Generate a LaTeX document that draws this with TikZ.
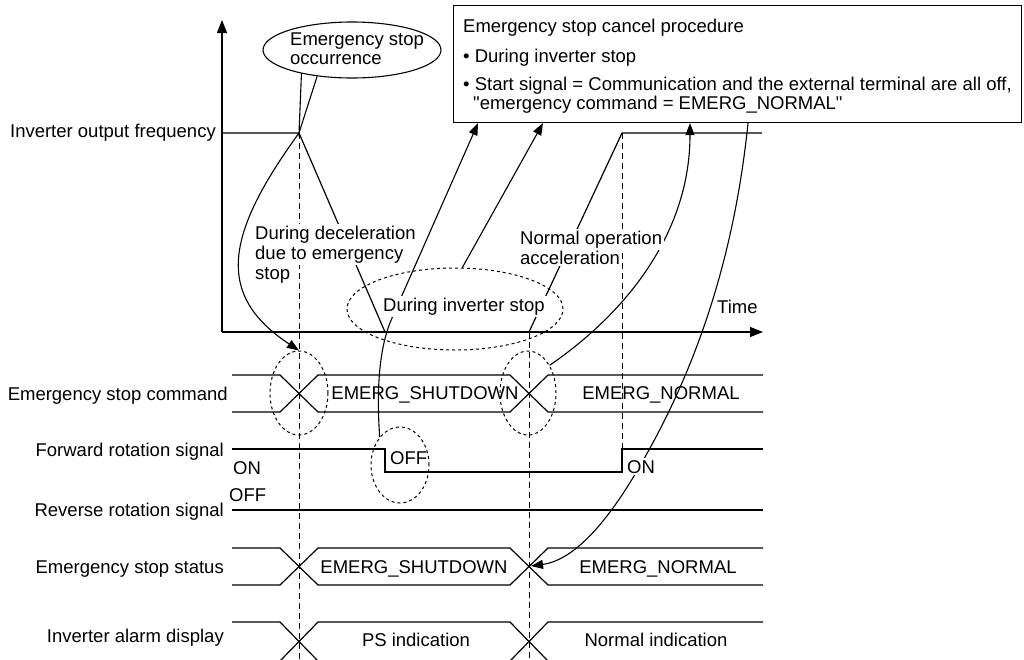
\documentclass[tikz,border=0pt]{standalone}
\usepackage{fontspec}
\setmainfont{Liberation Sans}[Ligatures=TeXOff]
\usetikzlibrary{arrows.meta,shapes.geometric}

\begin{document}
\begin{tikzpicture}[x=1pt,y=-1pt,
  lbl/.style={font=\fontsize{18.5}{20}\selectfont, inner sep=0pt},
  rowlbl/.style={lbl, anchor=base east},
  lw/.style={lbl, anchor=base west},
  cover/.style={lbl, anchor=base west, fill=white, inner sep=2pt},
  sig/.style={line width=1.2pt},
  leader/.style={line width=1.1pt},
  arr/.style={-{Triangle[length=12pt,width=9pt]}},
  vdash/.style={line width=1pt, dash pattern=on 6pt off 4pt},
  ring/.style={ellipse, draw, line width=1pt, dash pattern=on 3pt off 3pt, inner sep=0pt}]

\useasboundingbox (0,0) rectangle (1024,659);

% ---- frequency axes and curve
\coordinate (O) at (222,332);
\coordinate (apex) at (299,133);
\draw[sig, -{Triangle[length=13pt,width=10pt]}] (O) -- (222,20);
\draw[sig, -{Triangle[length=13pt,width=10pt]}] (O) -- (763,332);
\draw[sig] (222,133) -- (apex) -- (385,332);
\draw[sig] (529,332) -- (622,133) -- (762,133);

% ---- time markers
\draw[vdash] (apex) -- (299,661);
\draw[vdash] (529,332) -- (529,661);
\draw[vdash] (622,133) -- (622,449);

% ---- signal rows
\draw[sig] (232,375) -- (280,375) -- (318,412) -- (510,412) -- (548,375) -- (763,375);
\draw[sig] (232,412) -- (280,412) -- (318,375) -- (510,375) -- (548,412) -- (763,412);
\draw[sig] (232,449) -- (385,449) -- (385,472) -- (622,472) -- (622,449) -- (763,449);
\draw[sig] (232,510) -- (763,510);
\draw[sig] (232,548) -- (280,548) -- (318,585) -- (510,585) -- (548,548) -- (763,548);
\draw[sig] (232,585) -- (280,585) -- (318,548) -- (510,548) -- (548,585) -- (763,585);
\draw[sig] (232,622) -- (280,622) -- (318,661) -- (510,661) -- (548,622) -- (763,622);
\draw[sig] (232,661) -- (280,661) -- (318,622) -- (510,622) -- (548,661) -- (763,661);
\coordinate (stX) at (531,566);

% ---- dashed highlight rings
\node[ring, minimum width=58pt, minimum height=84pt] (cmdA) at (299,393) {};
\node[ring, minimum width=56pt, minimum height=84pt] (cmdB) at (528,393) {};
\node[ring, minimum width=58pt, minimum height=76pt] (offE) at (400,465) {};
\node[ring, minimum width=216pt, minimum height=82pt] (dip) at (455,309) {};

% ---- occurrence callout
\node[ellipse, draw, fill=white, line width=1.1pt, inner sep=0pt,
      minimum width=178pt, minimum height=56pt] (occ) at (352,50) {};
\draw[leader] (occ.205) -- (apex) -- (occ.217);
\node[lw] (occ1) at (290,45) {Emergency stop};
\node[lw] (occ2) at (290,64) {occurrence};

% ---- cancel procedure box
\node[draw, fill=white, line width=1.1pt, inner sep=0pt, anchor=north west,
      minimum width=568pt, minimum height=117pt] (cancel) at (453,5) {};
\node[lw] (c1) at (463,32) {Emergency stop cancel procedure};
\node[lw] (c2) at (463,62) {• During inverter stop};
\node[lw] (c3) at (463,90) {• Start signal = Communication and the external terminal are all off,};
\node[lw] (c4) at (473,109) {"emergency command = EMERG\_NORMAL"};

% ---- leaders
\draw[leader, arr] (apex) .. controls (225,235) and (215,295) .. (cmdA.north);
\draw[leader, arr] (offE.126) .. controls (376,385) and (380,345) .. (392,318)
      -- (478,0 |- cancel.south);
\draw[leader, arr] (dip.80) -- (543,0 |- cancel.south);
\draw[leader, arr] (cmdB.52) .. controls (630,310) and (690,230) .. (690,0 |- cancel.south);
\draw[leader, arr] (748,0 |- cancel.south) .. controls (735,250) and (700,360) .. (645,457)
      .. controls (610,520) and (575,560) .. (stX);

% ---- labels that mask the lines beneath them
\node[cover] (dec1) at (253,239) {During deceleration};
\node[cover] (dec2) at (253,259) {due to emergency};
\node[lw] (dec3) at (255,279) {stop};
\node[cover] (acc1) at (518,244) {Normal operation};
\node[cover] (acc2) at (518,264) {acceleration};
\node[cover] (dipt) at (381,311) {During inverter stop};
\node[cover] (onR) at (625,473) {ON};

% ---- remaining labels
\node[lw] (time) at (717,313) {Time};
\node[rowlbl] (r0) at (216,137) {Inverter output frequency};
\node[rowlbl] (r1) at (228,400) {Emergency stop command};
\node[rowlbl] (r2) at (224,456) {Forward rotation signal};
\node[rowlbl] (r3) at (224,516) {Reverse rotation signal};
\node[rowlbl] (r4) at (224,573) {Emergency stop status};
\node[rowlbl] (r5) at (224,642) {Inverter alarm display};
\node[lw] (onL) at (233,474) {ON};
\node[lw] (offL) at (229,501) {OFF};
\node[lw] (offM) at (390,464) {OFF};
\node[lbl, anchor=base] (v1) at (425,399) {EMERG\_SHUTDOWN};
\node[lbl, anchor=base] (v2) at (661,399) {EMERG\_NORMAL};
\node[lbl, anchor=base] (v3) at (414,573) {EMERG\_SHUTDOWN};
\node[lbl, anchor=base] (v4) at (658,573) {EMERG\_NORMAL};
\node[lbl, anchor=base] (v5) at (416,646) {PS indication};
\node[lbl, anchor=base] (v6) at (656,646) {Normal indication};
\end{tikzpicture}
\end{document}
